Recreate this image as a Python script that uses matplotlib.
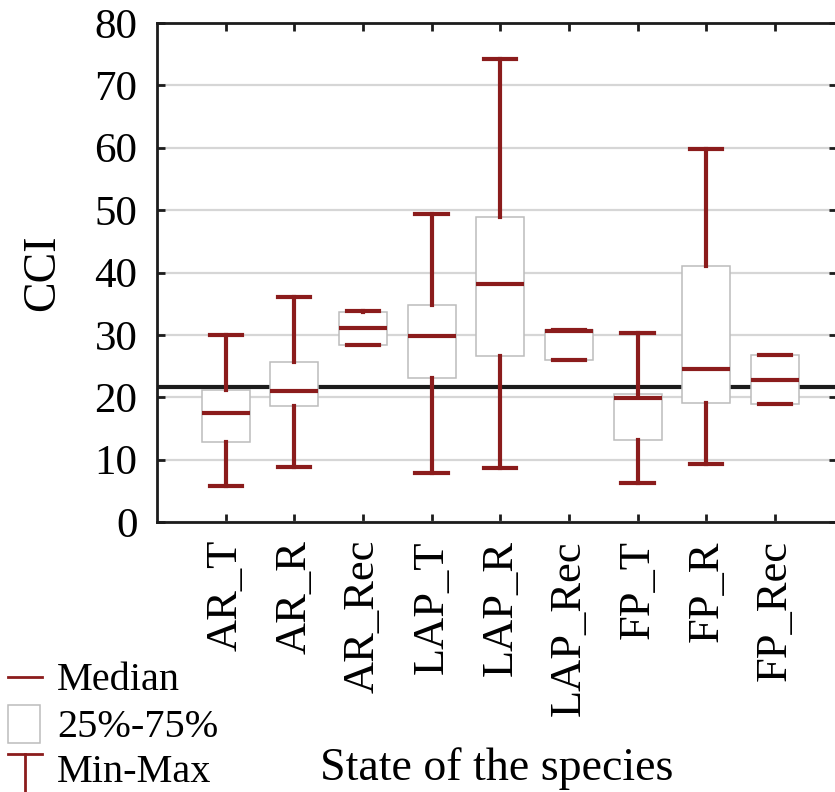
import matplotlib
matplotlib.use("Agg")
import matplotlib.pyplot as plt
from matplotlib.lines import Line2D
from matplotlib.patches import Rectangle

categories = ["AR_T", "AR_R", "AR_Rec", "LAP_T", "LAP_R", "LAP_Rec", "FP_T", "FP_R", "FP_Rec"]
mins    = [5.7, 8.8, 28.3, 7.8, 8.6, 25.9, 6.2, 9.3, 18.9]
q25     = [12.8, 18.6, 28.4, 23.1, 26.6, 25.9, 13.1, 19.0, 18.9]
medians = [17.5, 21.0, 31.1, 29.8, 38.1, 30.7, 19.9, 24.5, 22.8]
q75     = [21.2, 25.7, 33.6, 34.8, 48.9, 30.8, 20.6, 41.0, 26.8]
maxs    = [30.0, 36.1, 33.8, 49.4, 74.2, 30.8, 30.3, 59.8, 26.8]
ref_value = 21.7
yticks = [0, 10, 20, 30, 40, 50, 60, 70, 80]

RED = "#8b1c1c"
BOXEDGE = "#bcbcbc"
FONT = "Liberation Serif"

plt.rcParams["font.family"] = [FONT, "DejaVu Serif"]

fig = plt.figure(figsize=(8.35, 7.92), dpi=100)
ax = fig.add_axes([157/835, 1-522/792, 1-157/835+0.002, (522-23)/792])

positions = list(range(len(categories)))
stats = []
for i in positions:
    stats.append(dict(med=medians[i], q1=q25[i], q3=q75[i],
                      whislo=mins[i], whishi=maxs[i], fliers=[]))

ax.set_axisbelow(True)
ax.yaxis.grid(True, color="#d6d6d6", linewidth=1.6)
ax.axhline(ref_value, color="#1c1c1c", linewidth=3, zorder=1)

ax.bxp(stats, positions=positions, widths=0.70, capwidths=0.47,
       patch_artist=True, showfliers=False,
       boxprops=dict(facecolor="white", edgecolor=BOXEDGE, linewidth=1.1),
       whiskerprops=dict(color=RED, linewidth=3),
       capprops=dict(color=RED, linewidth=3),
       medianprops=dict(color=RED, linewidth=3),
       manage_ticks=False, zorder=2)

ax.set_xlim(-1, 8.9)
ax.set_ylim(0, 80)
ax.set_yticks(yticks)
ax.set_xticks(positions)
ax.set_xticklabels(categories, rotation=90, fontsize=32, fontfamily=FONT)
ax.set_yticklabels([str(v) for v in yticks], fontsize=31, fontfamily=FONT)
ax.tick_params(axis="both", direction="in", length=6, width=2, color="#1c1c1c",
               top=True, right=True)
ax.tick_params(axis="y", pad=14)
ax.tick_params(axis="x", pad=13)
for s in ax.spines.values():
    s.set_linewidth(2)
    s.set_color("#1c1c1c")

ax.set_ylabel("CCI", fontsize=33, fontfamily=FONT, labelpad=22)
ax.set_xlabel("State of the species", fontsize=33, fontfamily=FONT)
ax.xaxis.label.set_va("baseline")
ax.xaxis.set_label_coords(0.5, (522 - 780) / 499)

# Legend drawn in figure coordinates
W, H = 835, 792
def fx(x): return x / W
def fy(y): return 1 - y / H
fig.add_artist(Line2D([fx(8), fx(42)], [fy(677), fy(677)], color=RED, linewidth=2))
fig.add_artist(Rectangle((fx(8), fy(743)), fx(32), 38/H, facecolor="white",
                         edgecolor=BOXEDGE, linewidth=1.1))
fig.add_artist(Line2D([fx(8), fx(42)], [fy(754), fy(754)], color=RED, linewidth=2))
fig.add_artist(Line2D([fx(25), fx(25)], [fy(754), fy(792)], color=RED, linewidth=2))
LFS = 29
fig.text(fx(57), fy(690), "Median", fontsize=LFS, fontfamily=FONT, va="baseline")
fig.text(fx(57), fy(737), "25%-75%", fontsize=LFS, fontfamily=FONT, va="baseline")
fig.text(fx(57), fy(782), "Min-Max", fontsize=LFS, fontfamily=FONT, va="baseline")

fig.savefig("out.png", dpi=100)
